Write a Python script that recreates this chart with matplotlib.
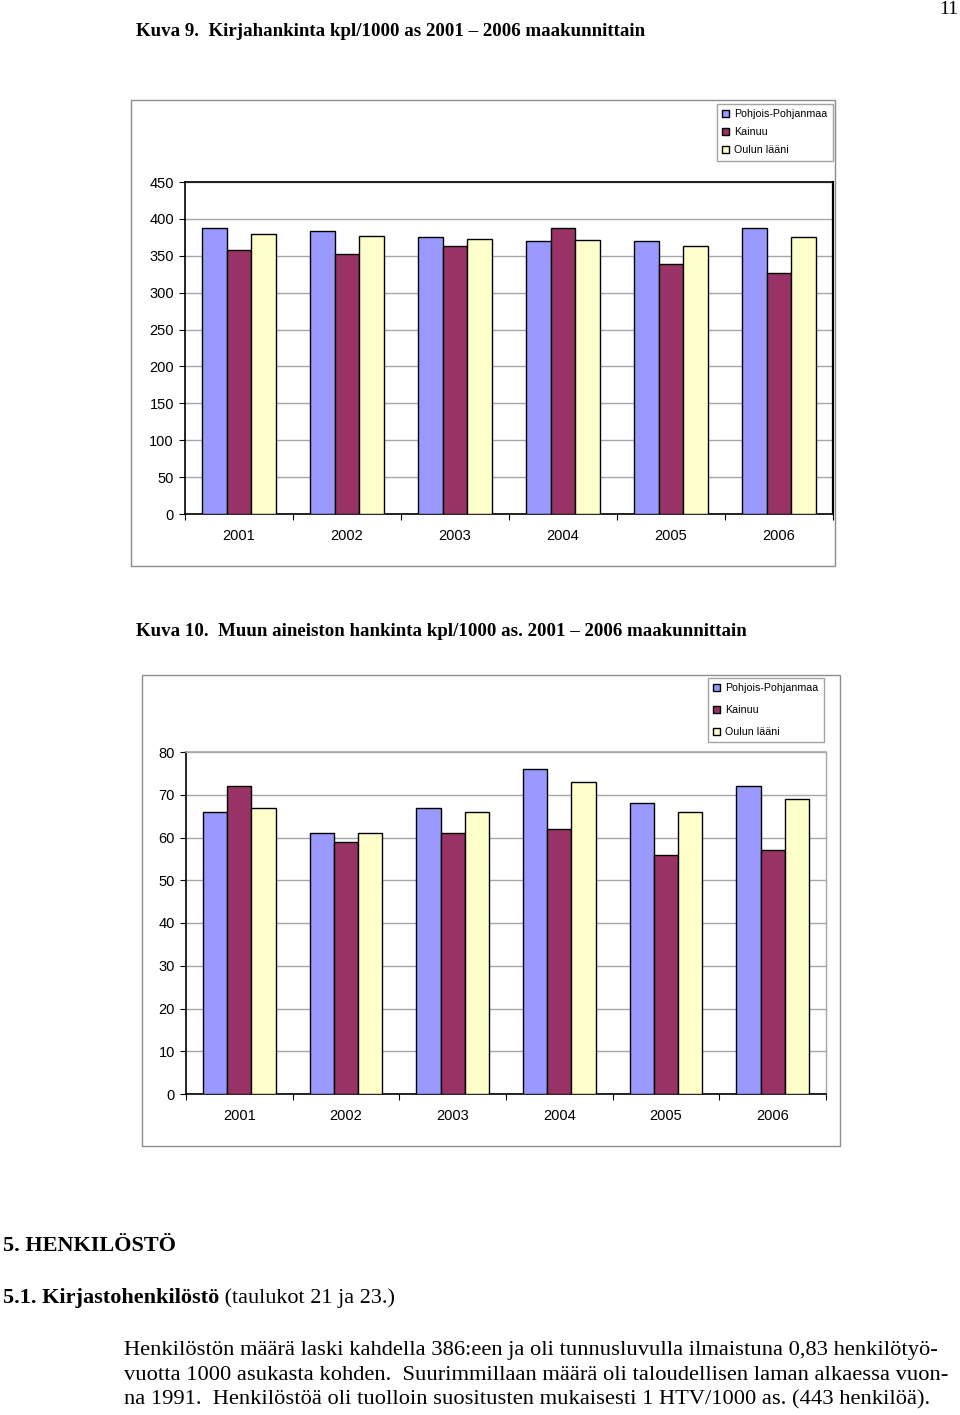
import numpy as np
import matplotlib
matplotlib.use("Agg")
import matplotlib.pyplot as plt
from matplotlib.patches import Rectangle

# Data
years = ["2001", "2002", "2003", "2004", "2005", "2006"]
series = ["Pohjois-Pohjanmaa", "Kainuu", "Oulun lääni"]
colors = ["#9999FF", "#993366", "#FFFFCC"]

books_pp = [387, 383, 375, 370, 370, 387]
books_kainuu = [358, 352, 363, 387, 339, 327]
books_oulu = [379, 377, 373, 372, 363, 375]

other_pp = [66, 61, 67, 76, 68, 72]
other_kainuu = [72, 59, 61, 62, 56, 57]
other_oulu = [67, 61, 66, 73, 66, 69]

W, H = 960, 1415
fig = plt.figure(figsize=(W / 100, H / 100), dpi=100)
fig.patch.set_facecolor("white")

serif = "Liberation Serif"
sans = "Liberation Sans"


def px(x0, y0, x1, y1):
    return [x0 / W, 1 - y1 / H, (x1 - x0) / W, (y1 - y0) / H]


def frame(x0, y0, x1, y1):
    fig.patches.append(Rectangle((x0 / W, 1 - y1 / H), (x1 - x0) / W, (y1 - y0) / H,
                                 transform=fig.transFigure, fill=False,
                                 edgecolor="#8c8c8c", linewidth=1.0))


def bar_chart(rect, vals, ymax, step, legend_xy, top_color, spacing):
    ax = fig.add_axes(rect)
    x = np.arange(len(years))
    w = 0.228
    bars = []
    for i, v in enumerate(vals):
        b = ax.bar(x + (i - 1) * w, v, w, color=colors[i], edgecolor="black",
                   linewidth=1.0, label=series[i], zorder=3)
        bars.append(b)
    ax.set_xlim(-0.5, len(years) - 0.5)
    ax.set_ylim(0, ymax)
    ax.set_yticks(np.arange(0, ymax + 1, step))
    ax.yaxis.grid(True, color="#a6a6a6", linewidth=1.0, zorder=0)
    ax.set_xticks(x)
    ax.set_xticklabels(years)
    ax.set_xticks(np.arange(-0.5, len(years)), minor=True)
    ax.tick_params(axis="x", which="major", length=0, pad=11)
    ax.tick_params(axis="x", which="minor", length=4, width=0.8, direction="out")
    ax.tick_params(axis="y", length=4, width=0.8, pad=4)
    for lab in ax.get_xticklabels() + ax.get_yticklabels():
        lab.set_fontfamily(sans)
        lab.set_fontsize(10.5)
    ax.spines["left"].set_linewidth(1.2)
    ax.spines["bottom"].set_linewidth(1.2)
    ax.spines["top"].set_color(top_color)
    ax.spines["right"].set_color(top_color)
    ax.spines["top"].set_linewidth(1.2)
    ax.spines["right"].set_linewidth(1.6 if top_color == "black" else 1.0)
    ax.set_facecolor("white")
    leg = fig.legend(handles=bars, labels=series, loc="upper left",
                     bbox_to_anchor=(legend_xy[0] / W, 1 - legend_xy[1] / H),
                     prop={"family": sans, "size": 7.7}, frameon=True, fancybox=False,
                     handlelength=0.6, handleheight=0.6, handletextpad=0.5,
                     labelspacing=spacing, borderpad=0.5, borderaxespad=0)
    leg.get_frame().set_edgecolor("#8c8c8c")
    leg.get_frame().set_linewidth(1.0)
    for p in leg.get_patches():
        p.set_edgecolor("black")
    return ax


# Page number
fig.text(958 / W, 1 - 10 / H, "11", family=serif, fontsize=14, ha="right", va="center")

# Figure 9
fig.text(136 / W, 1 - 31 / H, "Kuva 9.  Kirjahankinta kpl/1000 as 2001 – 2006 maakunnittain",
         family=serif, fontsize=13.6, weight="bold", va="center")
frame(131, 100, 835, 566)
bar_chart(px(185, 182, 833, 514), [books_pp, books_kainuu, books_oulu], 450, 50,
          (717, 104), "black", 0.75)

# Figure 10
fig.text(136 / W, 1 - 632 / H,
         "Kuva 10.  Muun aineiston hankinta kpl/1000 as. 2001 – 2006 maakunnittain",
         family=serif, fontsize=13.6, weight="bold", va="center")
frame(142, 675, 840, 1146)
bar_chart(px(186, 752, 826, 1094), [other_pp, other_kainuu, other_oulu], 80, 10,
          (708, 678), "#a6a6a6", 1.1)

# Section text
fig.text(3 / W, 1 - 1246 / H, "5. HENKILÖSTÖ", family=serif, fontsize=16,
         weight="bold", va="center")
t = fig.text(3 / W, 1 - 1298 / H, "5.1. Kirjastohenkilöstö", family=serif,
             fontsize=16, weight="bold", va="center")
fig.canvas.draw()
bb = t.get_window_extent()
fig.text(bb.x1 / W, 1 - 1298 / H, " (taulukot 21 ja 23.)", family=serif, fontsize=16,
         va="center")

lines = [
    "Henkilöstön määrä laski kahdella 386:een ja oli tunnusluvulla ilmaistuna 0,83 henkilötyö-",
    "vuotta 1000 asukasta kohden.  Suurimmillaan määrä oli taloudellisen laman alkaessa vuon-",
    "na 1991.  Henkilöstöä oli tuolloin suositusten mukaisesti 1 HTV/1000 as. (443 henkilöä).",
]
for i, s in enumerate(lines):
    fig.text(124 / W, 1 - (1350 + 25 * i) / H, s, family=serif, fontsize=16.2, va="center")

fig.savefig("out.png", dpi=100)
